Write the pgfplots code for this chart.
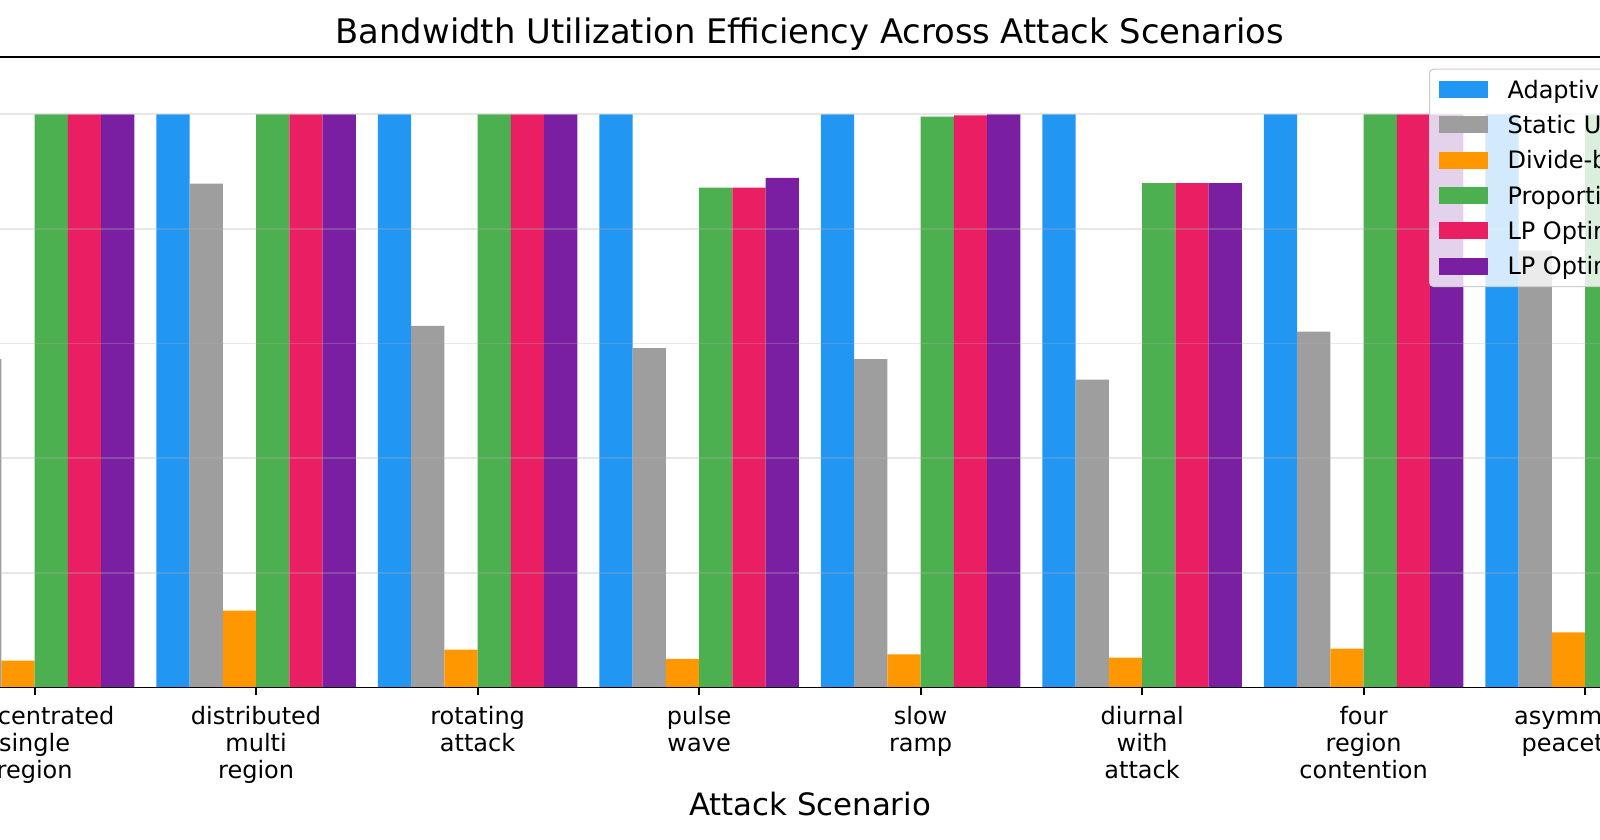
\documentclass[border=0pt]{standalone}
\usepackage{fontspec}
\setmainfont{DejaVu Sans}
\usepackage{pgfplots}
\pgfplotsset{compat=1.18}
\definecolor{cblue}{HTML}{2196F3}
\definecolor{cgray}{HTML}{9E9E9E}
\definecolor{corange}{HTML}{FF9800}
\definecolor{cgreen}{HTML}{4CAF50}
\definecolor{cpink}{HTML}{E91E63}
\definecolor{cpurple}{HTML}{7B1FA2}
\newcommand{\fl}{\rule{0pt}{9.2pt}}
\pgfplotsset{
  mybar/.style={fill=#1, draw=none,
    legend image code/.code={\fill[##1, fill opacity=1, sharp corners] (0pt,0.1pt) rectangle (24.5pt,8.6pt);}},
}
\begin{document}
\begin{tikzpicture}
\path[use as bounding box, clip] (0,0) rectangle (800pt,420pt);
\begin{axis}[
  at={(-49.15pt,76.25pt)}, anchor=south west,
  scale only axis, width=908.15pt, height=315.25pt,
  xmin=-0.6, xmax=7.6, ymin=0, ymax=1.1,
  ybar, bar width=0.15,
  xtick={0,1,2,3,4,5,6,7},
  xticklabels={{concentrated\\single\\region},{\fl distributed\\multi\\region},{\fl rotating\\attack},{\fl pulse\\wave},{\fl slow\\ramp},{\fl diurnal\\with\\attack},{\fl four\\region\\contention},{\fl asymmetric\\peacetime}},
  xticklabel style={align=center, anchor=north, inner sep=0pt, yshift=-5.6pt, font=\fontsize{12}{13.5}\selectfont},
  ytick={0,0.2,0.4,0.6,0.8,1.0},
  yticklabels={},
  ymajorgrids,
  grid style={color=black!31, opacity=0.3, line width=0.9pt},
  axis on top,
  xtick pos=bottom, ytick pos=left,
  tick align=outside, major tick length=3.5pt,
  every tick/.style={black, line width=0.95pt},
  axis line style={line width=0.95pt},
  title={Bandwidth Utilization Efficiency Across Attack Scenarios},
  title style={at={(rel axis cs:0.5,1)}, anchor=base, yshift=0.8pt, inner sep=0pt, font=\fontsize{16.9}{20}\selectfont},
  legend cell align=left,
  legend style={at={(rel axis cs:0.8409,0.9815)}, anchor=north west,
    draw=black!20, fill=white, fill opacity=0.8, text opacity=1,
    rounded corners=2pt, line width=0.5pt,
    inner xsep=4.5pt, inner ysep=1.4pt, row sep=0pt, column sep=10pt,
    font=\fontsize{12}{14}\selectfont,
    nodes={inner sep=0pt, text height=13.2pt, text depth=4.45pt, anchor=base west}},
]
\addplot[mybar=cblue, bar shift=-0.375] coordinates {(0,1.0) (1,1.0) (2,1.0) (3,1.0) (4,1.0) (5,1.0) (6,1.0) (7,1.0)};
\addlegendentry{Adaptive Allocation}
\addplot[mybar=cgray, bar shift=-0.225] coordinates {(0,0.573) (1,0.879) (2,0.631) (3,0.592) (4,0.573) (5,0.537) (6,0.621) (7,0.762)};
\addlegendentry{Static Uniform}
\addplot[mybar=corange, bar shift=-0.075] coordinates {(0,0.047) (1,0.134) (2,0.066) (3,0.050) (4,0.058) (5,0.052) (6,0.068) (7,0.096)};
\addlegendentry{Divide-by-N}
\addplot[mybar=cgreen, bar shift=0.075] coordinates {(0,1.0) (1,1.0) (2,1.0) (3,0.872) (4,0.996) (5,0.880) (6,1.0) (7,1.0)};
\addlegendentry{Proportional}
\addplot[mybar=cpink, bar shift=0.225] coordinates {(0,1.0) (1,1.0) (2,1.0) (3,0.872) (4,0.998) (5,0.880) (6,1.0) (7,1.0)};
\addlegendentry{LP Optimal}
\addplot[mybar=cpurple, bar shift=0.375] coordinates {(0,1.0) (1,1.0) (2,1.0) (3,0.889) (4,1.0) (5,0.880) (6,1.0) (7,1.0)};
\addlegendentry{LP Optimal (Oracle)}
\end{axis}
\pgftext[base,at={\pgfpoint{405pt}{12.5pt}}]{\fontsize{15.4}{18}\selectfont Attack Scenario}
\end{tikzpicture}
\end{document}
